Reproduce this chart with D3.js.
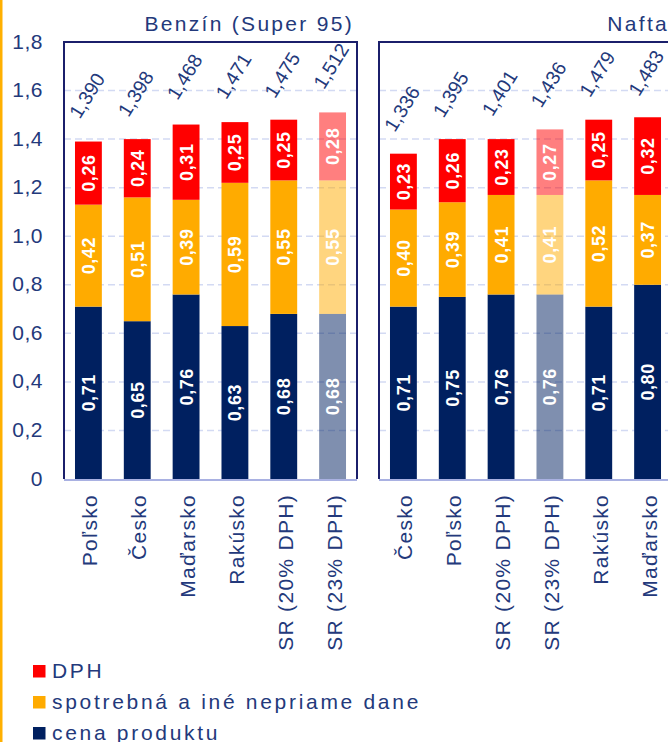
<!DOCTYPE html>
<html>
<head>
<meta charset="utf-8">
<script src="https://cdn.jsdelivr.net/npm/d3@7"></script>
<style>
  body { margin: 0; background: #fff; }
  text { font-family: "Liberation Sans", Arial, sans-serif; fill: #23397b; }
</style>
</head>
<body>
<div id="chart"></div>
<script>
// data
const seriesNames = ["cena produktu", "spotrebná a iné nepriame dane", "DPH"];
const seriesColors = ["#002060", "#ffab00", "#ff0000"];
const yTicks = [0, 0.2, 0.4, 0.6, 0.8, 1.0, 1.2, 1.4, 1.6, 1.8];

const benzinCats = ["Poľsko", "Česko", "Maďarsko", "Rakúsko", "SR (20% DPH)", "SR (23% DPH)"];
const benzinProdukt = [0.71, 0.65, 0.76, 0.63, 0.68, 0.68];
const benzinSpotrebna = [0.42, 0.51, 0.39, 0.59, 0.55, 0.55];
const benzinDph = [0.26, 0.24, 0.31, 0.25, 0.25, 0.28];
const benzinTotal = [1.390, 1.398, 1.468, 1.471, 1.475, 1.512];

const naftaCats = ["Česko", "Poľsko", "SR (20% DPH)", "SR (23% DPH)", "Rakúsko", "Maďarsko"];
const naftaProdukt = [0.71, 0.75, 0.76, 0.76, 0.71, 0.80];
const naftaSpotrebna = [0.40, 0.39, 0.41, 0.41, 0.52, 0.37];
const naftaDph = [0.23, 0.26, 0.23, 0.27, 0.25, 0.32];
const naftaTotal = [1.336, 1.395, 1.401, 1.436, 1.479, 1.483];

const paleCat = "SR (23% DPH)";

const panels = [
  { title: "Benzín (Super 95)", cats: benzinCats, vals: [benzinProdukt, benzinSpotrebna, benzinDph], total: benzinTotal, x0: 64 },
  { title: "Nafta", cats: naftaCats, vals: [naftaProdukt, naftaSpotrebna, naftaDph], total: naftaTotal, x0: 379 }
];

const W = 668, H = 742;
const panelW = 293;
const fmt = (v, d) => v.toFixed(d).replace(".", ",");

const svg = d3.select("#chart").append("svg")
    .attr("width", W)
    .attr("height", H);

svg.append("rect").attr("width", W).attr("height", H).attr("fill", "#fff");
svg.append("rect").attr("x", 0).attr("y", 0).attr("width", 2.5).attr("height", H).attr("fill", "#ffb000");

const y = d3.scaleLinear().domain([0, 1.8]).range([479, 42]);

// y tick labels
svg.append("g").selectAll("text")
    .data(yTicks)
    .join("text")
    .attr("x", 43)
    .attr("y", d => y(d) + 6.5)
    .attr("text-anchor", "end")
    .attr("font-size", 21)
    .attr("letter-spacing", 0.5)
    .text(d => d === 0 ? "0" : fmt(d, 1));

panels.forEach(p => {
  const g = svg.append("g");
  const x = d3.scaleBand()
      .domain(p.cats)
      .range([p.x0, p.x0 + panelW])
      .paddingInner(0.45)
      .paddingOuter(0.225);

  // grid
  g.selectAll("line.grid")
      .data(yTicks.filter(t => t > 0 && t < 1.8))
      .join("line")
      .attr("x1", p.x0).attr("x2", p.x0 + panelW)
      .attr("y1", d => y(d)).attr("y2", d => y(d))
      .attr("stroke", "#d3daf3")
      .attr("stroke-width", 1.5)
      .attr("stroke-dasharray", "7,4");

  const rows = p.cats.map((c, i) => {
    let acc = 0;
    return p.vals.map((s, k) => {
      const r = { cat: c, k, v: s[i], y0: acc, y1: acc + s[i] };
      acc += s[i];
      return r;
    });
  }).flat();

  g.selectAll("rect.seg")
      .data(rows)
      .join("rect")
      .attr("x", d => x(d.cat))
      .attr("width", x.bandwidth())
      .attr("y", d => y(d.y1))
      .attr("height", d => y(d.y0) - y(d.y1))
      .attr("fill", d => seriesColors[d.k])
      .attr("fill-opacity", d => d.cat === paleCat ? 0.5 : 1);

  g.selectAll("text.seg")
      .data(rows)
      .join("text")
      .attr("transform", d => `translate(${x(d.cat) + x.bandwidth() / 2},${y((d.y0 + d.y1) / 2)}) rotate(-90)`)
      .attr("text-anchor", "middle")
      .attr("dy", "0.36em")
      .attr("font-family", "DejaVu Sans")
      .attr("font-weight", "bold")
      .attr("font-size", 18)
      .attr("letter-spacing", 0.6)
      .style("fill", "#fff")
      .text(d => fmt(d.v, 2));

  // totals
  g.selectAll("text.total")
      .data(p.cats)
      .join("text")
      .attr("transform", (c, i) => `translate(${x(c) + x.bandwidth() / 2 - 1.5},${y(p.total[i]) - 46}) rotate(-58)`)
      .attr("text-anchor", "middle")
      .attr("dy", "0.35em")
      .attr("font-size", 19.5)
      .text((c, i) => fmt(p.total[i], 3));

  // frame
  g.append("path")
      .attr("d", `M${p.x0},${y(0)}V${y(1.8)}H${p.x0 + panelW}V${y(0)}`)
      .attr("fill", "none")
      .attr("stroke", "#1b1f6b")
      .attr("stroke-width", 2);
  g.append("line")
      .attr("x1", p.x0).attr("x2", p.x0 + panelW)
      .attr("y1", y(0) + 1).attr("y2", y(0) + 1)
      .attr("stroke", "#a9b1e2")
      .attr("stroke-width", 2);

  // category labels
  g.selectAll("text.cat")
      .data(p.cats)
      .join("text")
      .attr("transform", c => `translate(${x(c) + x.bandwidth() / 2 + 9},${y(0) + 15}) rotate(-90)`)
      .attr("text-anchor", "end")
      .attr("font-size", 21)
      .attr("letter-spacing", 1.3)
      .text(c => c);

  g.append("text")
      .attr("x", p.x0 + panelW - 3)
      .attr("y", 31)
      .attr("text-anchor", "end")
      .attr("font-size", 21)
      .attr("letter-spacing", 2.3)
      .text(p.title);
});

// legend
const legendOrder = [2, 1, 0];
const lg = svg.append("g").selectAll("g")
    .data(legendOrder)
    .join("g")
    .attr("transform", (k, i) => `translate(33,${665 + i * 31})`);
lg.append("rect").attr("width", 12.5).attr("height", 12.5).attr("fill", k => seriesColors[k]);
lg.append("text")
    .attr("x", 19).attr("y", 13)
    .attr("font-size", 21)
    .attr("letter-spacing", 2.7)
    .text(k => seriesNames[k]);
</script>
</body>
</html>
